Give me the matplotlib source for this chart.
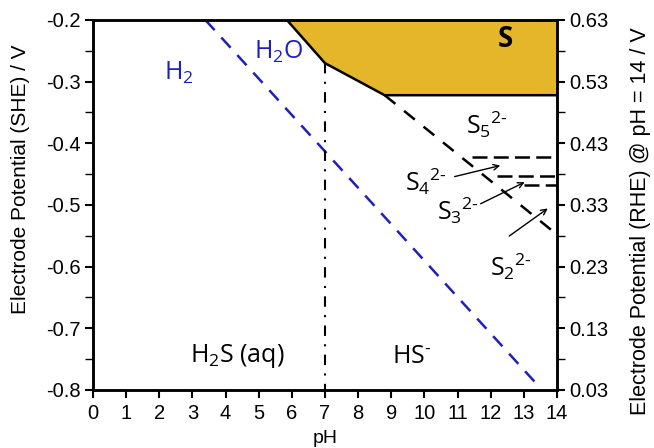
import matplotlib.pyplot as plt
from matplotlib.ticker import MultipleLocator, FixedLocator

# S (solid) stability region boundary, pH / E(SHE)
s_ph = [5.85, 7.0, 8.8, 14.0, 14.0]
s_e = [-0.2, -0.27, -0.322, -0.322, -0.2]

# H2 / H2O line
h2_ph = [3.39, 13.5]
h2_e = [-0.2, -0.797]

# S5 2- / HS- boundary (dashed)
s5_ph = [8.8, 14.0]
s5_e = [-0.322, -0.548]

# polysulfide horizontal boundaries
poly_start = [11.45, 12.2, 13.0]
poly_e = [-0.422, -0.453, -0.467]

# H2S / HS- boundary
pka_ph = [7.0, 7.0]
pka_e = [-0.27, -0.8]

rhe_ticks = [0.03, 0.13, 0.23, 0.33, 0.43, 0.53, 0.63]

gold = '#e5b62a'
blue = '#1f1fc0'
txt_font = ['Open Sans', 'DejaVu Sans']

plt.rcParams['font.family'] = ['Liberation Sans', 'DejaVu Sans']
plt.rcParams['mathtext.fontset'] = 'custom'
plt.rcParams['mathtext.rm'] = 'Open Sans'
plt.rcParams['mathtext.it'] = 'Open Sans:italic'
plt.rcParams['mathtext.bf'] = 'Open Sans:bold'

fig = plt.figure(figsize=(6.54, 4.48), dpi=100)
ax = fig.add_axes([0.1422, 0.1295, 0.7095, 0.8259])

ax.fill(s_ph, s_e, color=gold, zorder=1)
ax.plot(s_ph[:4], s_e[:4], color='black', lw=1.8, zorder=2)
ax.plot(h2_ph, h2_e, color=blue, lw=1.8, dashes=(5.5, 4))
ax.plot(s5_ph, s5_e, color='black', lw=1.8, dashes=(5.5, 4.5))
for x0, e in zip(poly_start, poly_e):
    ax.plot([x0, 14], [e, e], color='black', lw=1.8, dashes=(6, 2.5))
ax.plot(pka_ph, pka_e, color='black', lw=1.5, dashes=(5, 4, 1, 4))

# labels
fs = 18
minus = r'\text{-}'
ax.text(2.6, -0.286, r'$\mathrm{H_2}$', color=blue, fontsize=fs, ha='center', va='center')
ax.text(5.61, -0.252, r'$\mathrm{H_2O}$', color=blue, fontsize=fs, ha='center', va='center')
ax.text(12.45, -0.232, 'S', fontsize=20, weight='bold', family=txt_font, ha='center', va='center')
ax.text(4.35, -0.745, r'$\mathrm{H_2S}$ (aq)', fontsize=fs, family=txt_font, ha='center', va='center')
ax.text(9.63, -0.745, r'$\mathrm{HS^{' + minus + '}}$', fontsize=fs, ha='center', va='center')
ax.text(11.9, -0.37, r'$\mathrm{S_5}^{\mathrm{2' + minus + '}}$', fontsize=fs, ha='center', va='center')
ax.text(10.05, -0.462, r'$\mathrm{S_4}^{\mathrm{2' + minus + '}}$', fontsize=fs, ha='center', va='center')
ax.text(11.0, -0.51, r'$\mathrm{S_3}^{\mathrm{2' + minus + '}}$', fontsize=fs, ha='center', va='center')
ax.text(12.6, -0.6, r'$\mathrm{S_2}^{\mathrm{2' + minus + '}}$', fontsize=fs, ha='center', va='center')

# arrows
arrows = [((10.83, -0.455), (12.37, -0.435)),
          ((11.62, -0.50), (13.1, -0.461)),
          ((12.49, -0.553), (13.79, -0.503))]
for start, end in arrows:
    ax.annotate('', xy=end, xytext=start,
                arrowprops=dict(arrowstyle='->', color='black', lw=1.0))

ax.set_xlim(0, 14)
ax.set_ylim(-0.8, -0.2)
ax.xaxis.set_major_locator(MultipleLocator(1))
ax.yaxis.set_major_locator(MultipleLocator(0.1))
ax.yaxis.set_minor_locator(MultipleLocator(0.05))
ax.set_yticklabels([f'{v:.1f}' for v in ax.get_yticks()])
ax.tick_params(axis='both', which='major', labelsize=14.5, direction='out', length=6, width=1.5, pad=3)
ax.tick_params(axis='x', which='major', pad=4)
ax.tick_params(axis='y', which='minor', direction='out', length=6, width=1.0)
ax.set_xlabel('pH', fontsize=14, labelpad=5)
for sp in ax.spines.values():
    sp.set_linewidth(1.8)

ax2 = ax.twinx()
ax2.set_ylim(-0.8 + 0.83, -0.2 + 0.83)
ax2.yaxis.set_major_locator(FixedLocator(rhe_ticks))
ax2.yaxis.set_minor_locator(FixedLocator([t + 0.05 for t in rhe_ticks[:-1]]))
ax2.set_yticklabels([f'{t:.2f}' for t in rhe_ticks])
ax2.tick_params(axis='y', which='major', labelsize=14.5, direction='out', length=6, width=1.5, pad=3)
ax2.tick_params(axis='y', which='minor', direction='out', length=6, width=1.0)
for sp in ax2.spines.values():
    sp.set_linewidth(1.8)

# axis titles placed as in the original figure
fig.text(0.031, 0.600, 'Electrode Potential (SHE) / V', fontsize=15,
         rotation=90, ha='center', va='center')
fig.text(0.979, 0.507, 'Electrode Potential (RHE) @ pH = 14 / V', fontsize=15.5,
         rotation=90, ha='center', va='center')

fig.savefig('out.png', dpi=100)
